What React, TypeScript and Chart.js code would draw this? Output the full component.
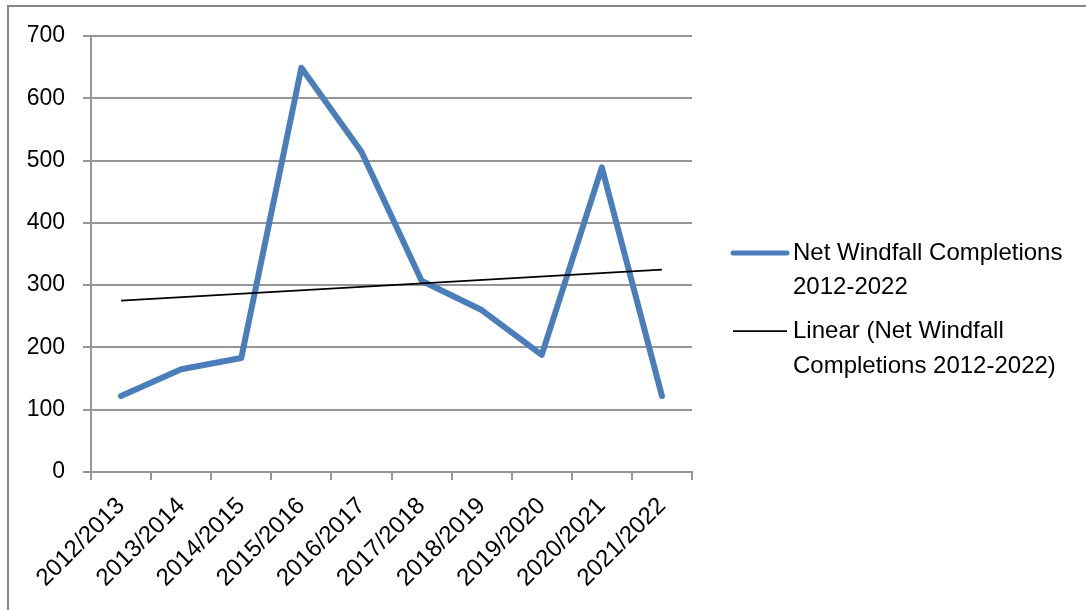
import React, { useEffect, useRef } from 'react';
import { Chart, registerables } from 'chart.js';

Chart.register(...registerables);

const categories = [
  '2012/2013', '2013/2014', '2014/2015', '2015/2016', '2016/2017',
  '2017/2018', '2018/2019', '2019/2020', '2020/2021', '2021/2022',
];
const windfall = [122, 165, 183, 649, 514, 307, 260, 188, 489, 122];
// Trend line endpoints (straight line between them)
const trend = [275, null, null, null, null, null, null, null, null, 325];
const yMin = 0;
const yMax = 700;
const yStep = 100;
const seriesLabel = 'Net Windfall Completions 2012-2022';
const trendLabel = 'Linear (Net Windfall Completions 2012-2022)';
const seriesLegendLines = ['Net Windfall Completions', '2012-2022'];
const trendLegendLines = ['Linear (Net Windfall', 'Completions 2012-2022)'];

const FONT = '"Liberation Sans", Arial, sans-serif';
const BLUE = '#4a7ebb';
const GRID = '#969696';

const framePlugin = {
  id: 'frame',
  beforeDraw(chart: any) {
    const ctx = chart.ctx;
    ctx.save();
    ctx.fillStyle = '#ffffff';
    ctx.fillRect(0, 0, chart.width, chart.height);
    ctx.strokeStyle = '#878787';
    ctx.lineWidth = 2;
    ctx.beginPath();
    ctx.moveTo(8, chart.height);
    ctx.lineTo(8, 6);
    ctx.lineTo(chart.width, 6);
    ctx.stroke();
    ctx.restore();
  },
  afterDraw(chart: any) {
    const ctx = chart.ctx;
    const a = chart.chartArea;
    const x0 = a.right + 41;
    const x1 = a.right + 95;
    const tx = a.right + 101;
    ctx.save();
    ctx.font = `24px ${FONT}`;
    ctx.fillStyle = '#000';
    ctx.textBaseline = 'middle';
    ctx.textAlign = 'left';
    // item 1
    const y1 = a.top + 217;
    ctx.strokeStyle = BLUE;
    ctx.lineWidth = 5;
    ctx.lineCap = 'round';
    ctx.beginPath();
    ctx.moveTo(x0, y1);
    ctx.lineTo(x1, y1);
    ctx.stroke();
    seriesLegendLines.forEach((t, i) => ctx.fillText(t, tx, y1 + i * 34));
    // item 2
    const y2 = a.top + 295;
    ctx.strokeStyle = '#000';
    ctx.lineWidth = 1.75;
    ctx.lineCap = 'butt';
    ctx.beginPath();
    ctx.moveTo(x0, y2);
    ctx.lineTo(x1, y2);
    ctx.stroke();
    trendLegendLines.forEach((t, i) => ctx.fillText(t, tx, y2 + i * 35));
    ctx.restore();
  },
};

export default function App() {
  const ref = useRef<HTMLCanvasElement>(null);

  useEffect(() => {
    if (!ref.current) return;
    const chart = new Chart(ref.current, {
      type: 'line',
      data: {
        labels: categories,
        datasets: [
          {
            label: seriesLabel,
            data: windfall,
            borderColor: BLUE,
            backgroundColor: BLUE,
            borderWidth: 6,
            pointRadius: 0,
            tension: 0,
            borderCapStyle: 'round',
            borderJoinStyle: 'round',
            order: 2,
          },
          {
            label: trendLabel,
            data: trend,
            borderColor: '#000000',
            backgroundColor: '#000000',
            borderWidth: 1.75,
            pointRadius: 0,
            spanGaps: true,
            order: 1,
          },
        ],
      },
      options: {
        responsive: false,
        animation: false,
        layout: { padding: { top: 36, right: 394, left: 0, bottom: 0 } },
        plugins: {
          legend: { display: false },
          tooltip: { enabled: false },
        },
        scales: {
          x: {
            offset: true,
            grid: {
              offset: true,
              drawOnChartArea: false,
              drawTicks: true,
              tickLength: 8,
              color: GRID,
              lineWidth: 2,
            },
            border: { display: true, color: GRID, width: 2 },
            ticks: {
              color: '#000',
              font: { family: FONT, size: 24 },
              maxRotation: 45,
              minRotation: 45,
              autoSkip: false,
              padding: 12,
            },
            afterFit(scale: any) {
              scale.height = 138;
            },
          },
          y: {
            min: yMin,
            max: yMax,
            grid: {
              color: GRID,
              lineWidth: 2,
              drawTicks: true,
              tickLength: 8,
            },
            border: { display: true, color: GRID, width: 2 },
            ticks: {
              stepSize: yStep,
              color: '#000',
              font: { family: FONT, size: 23 },
              padding: 18,
            },
            afterFit(scale: any) {
              scale.width = 91;
            },
          },
        },
      },
      plugins: [framePlugin],
    } as any);
    return () => chart.destroy();
  }, []);

  return (
    <div style={{ position: 'absolute', left: 0, top: 0, width: 1086, height: 610 }}>
      <canvas ref={ref} width={1086} height={610} style={{ display: 'block' }} />
    </div>
  );
}
